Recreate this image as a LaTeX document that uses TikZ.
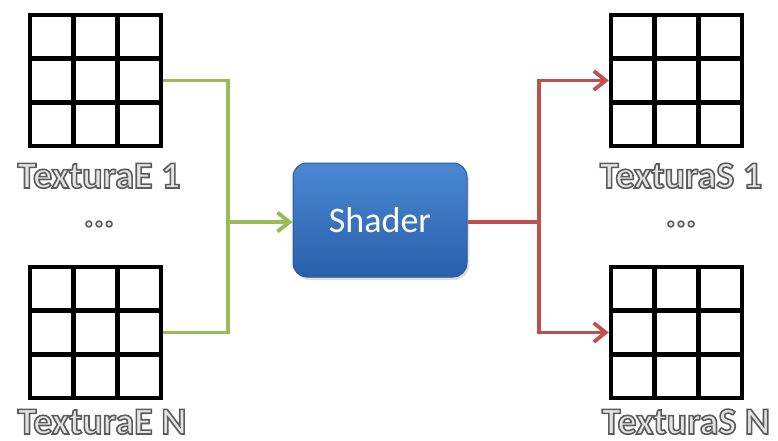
\documentclass[tikz,border=0pt]{standalone}
\usepackage{fontspec}
\setmainfont{Carlito}
\usetikzlibrary{calc,arrows.meta,shadows}

\definecolor{inGreen}{HTML}{9BBB59}
\definecolor{outRed}{HTML}{C0504D}
\definecolor{boxTop}{HTML}{4A88D2}
\definecolor{boxBot}{HTML}{2A5FAA}
\definecolor{boxEdge}{HTML}{2A5A9C}
\definecolor{labelFill}{HTML}{E4E4E4}

% outlined lettering: light fill, dark grey stroke (PDF text render mode 2)
\newcommand{\hollowtext}[1]{\textcolor{labelFill}{\special{pdf:literal direct 2 Tr 1.6 w 0.36 0.36 0.36 RG}#1\special{pdf:literal direct 0 Tr}}}

\tikzset{
  texgrid/.style={draw, line width=4.4pt, minimum size=131pt, inner sep=0pt,
    path picture={
      \foreach \f in {1,2} {
        \draw[line width=4.4pt]
          ($(path picture bounding box.north west)!\f/3!(path picture bounding box.north east)$) --
          ($(path picture bounding box.south west)!\f/3!(path picture bounding box.south east)$);
        \draw[line width=4.4pt]
          ($(path picture bounding box.north west)!\f/3!(path picture bounding box.south west)$) --
          ($(path picture bounding box.north east)!\f/3!(path picture bounding box.south east)$);
      }
    }},
  texlabel/.style={anchor=base, inner sep=0pt, font=\fontsize{38}{38}\selectfont\bfseries},
  dots/.style={inner sep=0pt, font=\fontsize{38}{38}\selectfont\bfseries},
  shaderbox/.style={rounded corners=14pt, minimum width=174pt, minimum height=114pt,
    draw=boxEdge, line width=1pt, top color=boxTop, bottom color=boxBot,
    text=white, font=\fontsize{36}{36}\selectfont,
    drop shadow={shadow xshift=2pt, shadow yshift=-3pt, opacity=0.25}},
  inflow/.style={draw=inGreen, line width=3.8pt},
  outflow/.style={draw=outRed, line width=3.8pt},
  barb/.style={-{Straight Barb[length=12pt, width=19pt, line width=3.8pt]}}
}

\begin{document}
\begin{tikzpicture}[x=1pt, y=-1pt]
  \useasboundingbox (0,0) rectangle (778,441);

  % input textures
  \node[texgrid] (e1) at (95.5,80.5) {};
  \node[texgrid] (eN) at (95.5,332.5) {};
  % output textures
  \node[texgrid] (s1) at (676.5,80.5) {};
  \node[texgrid] (sN) at (676.5,332.5) {};

  % labels
  \node[texlabel] (le1) at (99,188) {\hollowtext{TexturaE 1}};
  \node[texlabel] (leN) at (102,434) {\hollowtext{TexturaE N}};
  \node[texlabel] (ls1) at (681,188) {\hollowtext{TexturaS 1}};
  \node[texlabel] (lsN) at (686,434) {\hollowtext{TexturaS N}};
  \node[dots] (de) at (99,224) {\hollowtext{...}};
  \node[dots] (ds) at (681,224) {\hollowtext{...}};

  % shader
  \node[shaderbox] (sh) at (380,220) {Shader};

  % junctions
  \coordinate (gj) at (228,222);
  \coordinate (rj) at (539,222);

  % input connectors
  \draw[inflow] (e1.east) -| (gj);
  \draw[inflow] (eN.east) -| (gj);
  \draw[inflow, barb] (gj) -- (sh.west |- gj);

  % output connectors
  \draw[outflow] (sh.east |- rj) -- (rj);
  \draw[outflow, barb] (rj) |- (s1.west);
  \draw[outflow, barb] (rj) |- (sN.west);
\end{tikzpicture}
\end{document}
